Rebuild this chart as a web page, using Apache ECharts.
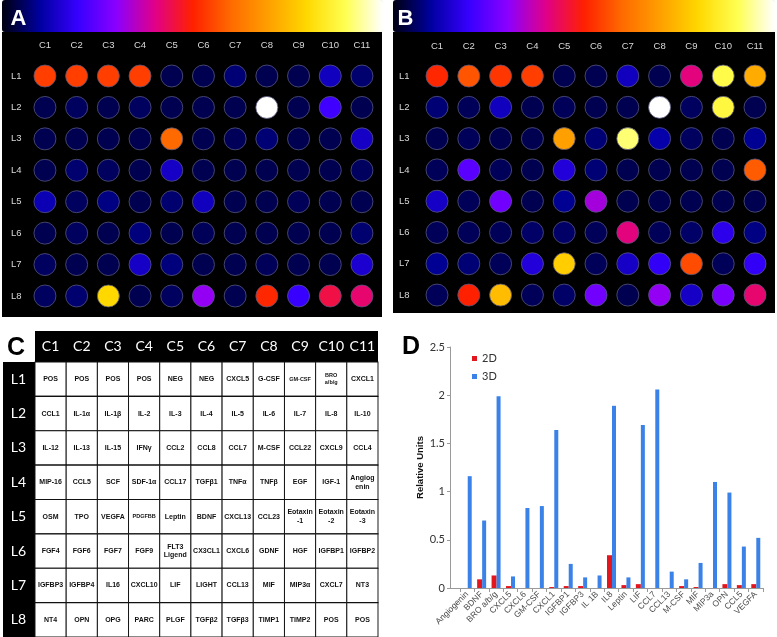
<!DOCTYPE html>
<html><head><meta charset="utf-8">
<script src="https://cdn.jsdelivr.net/npm/echarts@6/dist/echarts.min.js"></script>
<style>html,body{margin:0;padding:0;background:#fff}#c{width:777px;height:637px}</style>
</head><body><div id="c"></div>
<script>
// ---------- data ----------
const wellCols = ['C1','C2','C3','C4','C5','C6','C7','C8','C9','C10','C11'];
const wellRows = ['L1','L2','L3','L4','L5','L6','L7','L8'];

// normalised spot intensity (0..1 on the heat scale), rows L1..L8, columns C1..C11
const intensityA = [
  [0.54,0.54,0.54,0.54,0.045,0.045,0.07,0.045,0.045,0.13,0.065],
  [0.045,0.055,0.045,0.055,0.045,0.045,0.045,1.0,0.045,0.21,0.045],
  [0.045,0.045,0.045,0.045,0.60,0.045,0.05,0.07,0.045,0.045,0.14],
  [0.045,0.065,0.055,0.045,0.14,0.045,0.045,0.045,0.045,0.045,0.055],
  [0.12,0.055,0.08,0.045,0.065,0.13,0.045,0.045,0.05,0.045,0.045],
  [0.045,0.055,0.045,0.075,0.045,0.05,0.045,0.045,0.045,0.045,0.065],
  [0.055,0.045,0.045,0.14,0.075,0.045,0.045,0.05,0.045,0.045,0.15],
  [0.055,0.065,0.80,0.045,0.055,0.31,0.045,0.51,0.20,0.45,0.42]
];
const intensityB = [
  [0.51,0.57,0.53,0.54,0.045,0.045,0.13,0.045,0.41,0.89,0.72],
  [0.07,0.05,0.13,0.045,0.05,0.045,0.045,1.0,0.055,0.88,0.045],
  [0.045,0.05,0.045,0.045,0.70,0.07,0.92,0.11,0.055,0.045,0.09],
  [0.05,0.24,0.05,0.045,0.16,0.07,0.045,0.045,0.045,0.045,0.58],
  [0.14,0.05,0.27,0.045,0.09,0.33,0.045,0.045,0.045,0.045,0.045],
  [0.05,0.05,0.05,0.06,0.06,0.05,0.41,0.05,0.06,0.18,0.08],
  [0.09,0.07,0.05,0.16,0.78,0.05,0.14,0.19,0.56,0.05,0.19],
  [0.05,0.50,0.75,0.05,0.06,0.27,0.045,0.31,0.14,0.28,0.42]
];
const heatColors = ['#000010','#0000a0','#3800ff','#8a00ff','#e0008a','#ff2000','#ff6a00','#ffa000','#ffd800','#ffff50','#ffffff'];

const tableLabels = [
  ['POS','POS','POS','POS','NEG','NEG','CXCL5','G-CSF','GM-CSF','BRO\na/b/g','CXCL1'],
  ['CCL1','IL-1\u03b1','IL-1\u03b2','IL-2','IL-3','IL-4','IL-5','IL-6','IL-7','IL-8','IL-10'],
  ['IL-12','IL-13','IL-15','IFN\u03b3','CCL2','CCL8','CCL7','M-CSF','CCL22','CXCL9','CCL4'],
  ['MIP-16','CCL5','SCF','SDF-1\u03b1','CCL17','TGF\u03b21','TNF\u03b1','TNF\u03b2','EGF','IGF-1','Angiog\nenin'],
  ['OSM','TPO','VEGFA','PDGFBB','Leptin','BDNF','CXCL13','CCL23','Eotaxin\n-1','Eotaxin\n-2','Eotaxin\n-3'],
  ['FGF4','FGF6','FGF7','FGF9','FLT3\nLigend','CX3CL1','CXCL6','GDNF','HGF','IGFBP1','IGFBP2'],
  ['IGFBP3','IGFBP4','IL16','CXCL10','LIF','LIGHT','CCL13','MIF','MIP3\u03b1','CXCL7','NT3'],
  ['NT4','OPN','OPG','PARC','PLGF','TGF\u03b22','TGF\u03b23','TIMP1','TIMP2','POS','POS']
];

const cytokines = ['Angiogenin','BDNF','BRO a/b/g','CXCL5','CXCL6','GM-CSF','CXCL1','IGFBP1','IGFBP3','IL 1B','IL8','Leptin','LIF','CCL7','CCL13','M-CSF','MIF','MIP3a','OPN','CCL5','VEGFA'];
const values2D = [0,0.09,0.13,0.02,0,0,0.01,0.02,0.02,0,0.34,0.03,0.04,0,0,0.02,0.01,0,0.04,0.03,0.04];
const values3D = [1.16,0.70,1.99,0.12,0.83,0.85,1.64,0.25,0.11,0.13,1.89,0.11,1.69,2.06,0.17,0.09,0.26,1.10,0.99,0.43,0.52];

// ---------- build ----------
function wellData(m){ const d=[]; m.forEach((row,r)=>row.forEach((v,c)=>d.push([c,r,v]))); return d; }
const tableData = []; tableLabels.forEach((row,r)=>row.forEach((t,c)=>tableData.push([c,r])));
const smallLabels = new Set(['GM-CSF','BRO\na/b/g','PDGFBB']);

const wellXAxis = (gi, margin) => ({type:'category', gridIndex:gi, data:wellCols, position:'top',
  axisLine:{show:false}, axisTick:{show:false}, splitLine:{show:false},
  axisLabel:{interval:0, color:'#d8d8d8', fontSize:9.5, margin:margin, fontFamily:'Liberation Sans'}});
const wellYAxis = (gi, margin) => ({type:'category', gridIndex:gi, data:wellRows, inverse:true,
  axisLine:{show:false}, axisTick:{show:false}, splitLine:{show:false},
  axisLabel:{interval:0, color:'#d8d8d8', fontSize:9.5, margin:margin, fontFamily:'Liberation Sans'}});

const wellSeries = (i, m) => ({type:'scatter', xAxisIndex:i, yAxisIndex:i, data:wellData(m),
  symbol:'circle', symbolSize:22, silent:true,
  itemStyle:{opacity:1, borderColor:'#56567c', borderWidth:0.8}});

const chart = echarts.init(document.getElementById('c'), null, {renderer:'canvas'});
chart.setOption({
  animation:false,
  backgroundColor:'#ffffff',
  grid:[
    {left:29.1, top:60.3, width:348.7, height:251.4},
    {left:421.1, top:60.4, width:349.8, height:250.3},
    {left:35, top:362, width:343, height:275},
    {left:460, top:347, width:303, height:241}
  ],
  xAxis:[
    wellXAxis(0, 9.5), wellXAxis(1, 9.5),
    {type:'category', gridIndex:2, data:wellCols, position:'top',
      axisLine:{show:false}, axisTick:{show:false}, splitLine:{show:false},
      axisLabel:{interval:0, color:'#ffffff', fontSize:14, margin:9, fontFamily:'Lato'}},
    {type:'category', gridIndex:3, data:cytokines,
      axisLine:{show:true, lineStyle:{color:'#9a9a9a'}},
      axisTick:{show:true, length:4, lineStyle:{color:'#9a9a9a'}},
      axisLabel:{rotate:45, interval:0, fontSize:8.5, color:'#4a4a4a', margin:5, fontFamily:'Liberation Sans'}}
  ],
  yAxis:[
    wellYAxis(0, 7.5), wellYAxis(1, 11.5),
    {type:'category', gridIndex:2, data:wellRows, inverse:true,
      axisLine:{show:false}, axisTick:{show:false}, splitLine:{show:false},
      axisLabel:{interval:0, color:'#ffffff', fontSize:14, margin:9, fontFamily:'Lato'}},
    {type:'value', gridIndex:3, min:0, max:2.5, interval:0.5, offset:10,
      axisLine:{show:true, lineStyle:{color:'#9a9a9a'}},
      axisTick:{show:true, length:3, lineStyle:{color:'#9a9a9a'}},
      splitLine:{show:false},
      axisLabel:{fontSize:11, color:'#333', margin:5, fontFamily:'Lato'},
      name:'Relative Units', nameLocation:'middle', nameGap:19,
      nameTextStyle:{fontWeight:'bold', fontSize:9.5, color:'#111', fontFamily:'Liberation Sans'}}
  ],
  visualMap:[
    {type:'continuous', seriesIndex:0, dimension:2, min:0, max:1, orient:'horizontal',
      left:2, top:0, itemWidth:32, itemHeight:381, padding:0, calculable:false, hoverLink:false,
      inRange:{color:heatColors}},
    {type:'continuous', seriesIndex:1, dimension:2, min:0, max:1, orient:'horizontal',
      left:393, top:0, itemWidth:32, itemHeight:382, padding:0, calculable:false, hoverLink:false,
      inRange:{color:heatColors}}
  ],
  legend:{data:['2D','3D'], orient:'vertical', left:472, top:353, itemWidth:5, itemHeight:5,
    itemGap:7, icon:'rect', padding:0, textStyle:{fontSize:11, color:'#333', fontFamily:'Lato'}},
  graphic:[
    {type:'rect', z:-1, shape:{x:2, y:32, width:380, height:285}, style:{fill:'#000'}},
    {type:'rect', z:-1, shape:{x:393, y:32, width:382, height:281}, style:{fill:'#000'}},
    {type:'rect', z:-1, shape:{x:35, y:331, width:343, height:31}, style:{fill:'#000'}},
    {type:'rect', z:-1, shape:{x:3, y:362, width:32, height:275}, style:{fill:'#000'}},
    {type:'line', z:-1, shape:{x1:450, y1:588.5, x2:460, y2:588.5}, style:{stroke:'#9a9a9a', lineWidth:1}},
    {type:'text', z:100, x:18.5, y:19, style:{text:'A', fill:'#fff', font:'bold 22px "Liberation Sans"', align:'center', verticalAlign:'middle', textAlign:'center', textVerticalAlign:'middle'}},
    {type:'text', z:100, x:405.5, y:19, style:{text:'B', fill:'#fff', font:'bold 22px "Liberation Sans"', align:'center', verticalAlign:'middle', textAlign:'center', textVerticalAlign:'middle'}},
    {type:'text', z:100, x:16, y:348, style:{text:'C', fill:'#000', font:'bold 25px "Liberation Sans"', align:'center', verticalAlign:'middle', textAlign:'center', textVerticalAlign:'middle'}},
    {type:'text', z:100, x:411, y:347, style:{text:'D', fill:'#000', font:'bold 25px "Liberation Sans"', align:'center', verticalAlign:'middle', textAlign:'center', textVerticalAlign:'middle'}}
  ],
  series:[
    wellSeries(0, intensityA),
    wellSeries(1, intensityB),
    {type:'scatter', xAxisIndex:2, yAxisIndex:2, data:tableData, symbol:'rect',
      symbolSize:[31.18, 34.38], silent:true,
      itemStyle:{opacity:1, color:'#fff', borderColor:'#111', borderWidth:1},
      label:{show:true, position:'inside', color:'#111', fontSize:7, fontWeight:'bold',
        fontFamily:'Liberation Sans', lineHeight:8.5,
        formatter:p=>{const t=tableLabels[p.value[1]][p.value[0]];
          return smallLabels.has(t) ? t.split('\n').map(s=>'{s|'+s+'}').join('\n') : t;},
        rich:{s:{fontSize:5.5, fontWeight:'bold', fontFamily:'Liberation Sans', color:'#111', lineHeight:7}}}},
    {type:'bar', name:'2D', xAxisIndex:3, yAxisIndex:3, data:values2D, barWidth:5, barGap:'0%',
      itemStyle:{color:'#e3151d'}},
    {type:'bar', name:'3D', xAxisIndex:3, yAxisIndex:3, data:values3D, barWidth:4, barGap:'0%',
      itemStyle:{color:'#3b82e8'}}
  ]
});
</script></body></html>
